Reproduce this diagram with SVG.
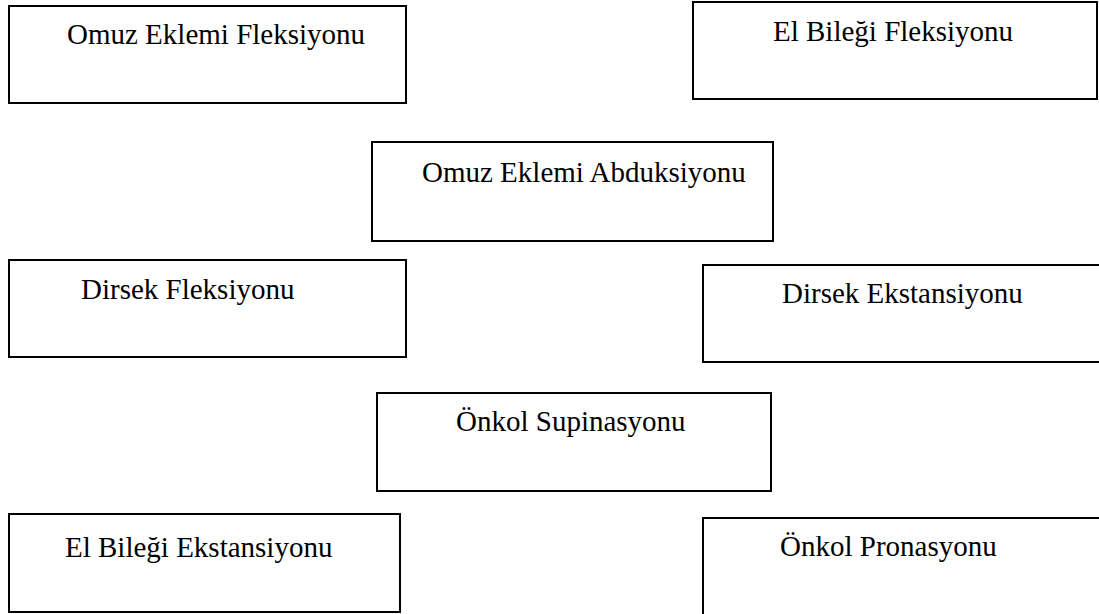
<svg xmlns="http://www.w3.org/2000/svg" width="1099" height="614" viewBox="0 0 1099 614">
<style>
.box{fill:#fff;stroke:#000;stroke-width:2}
.lbl{font-family:"Liberation Serif","Times New Roman",serif;font-size:29px;fill:#000}
</style>
<rect width="1099" height="614" fill="#fff"/>
<g id="n1"><rect class="box" x="9" y="6" width="397" height="97"/><text class="lbl" x="67" y="44">Omuz Eklemi Fleksiyonu</text></g>
<g id="n2"><rect class="box" x="693" y="2" width="404" height="97"/><text class="lbl" x="773" y="41">El Bileği Fleksiyonu</text></g>
<g id="n3"><rect class="box" x="372" y="142" width="401" height="99"/><text class="lbl" x="422" y="182">Omuz Eklemi Abduksiyonu</text></g>
<g id="n4"><rect class="box" x="9" y="260" width="397" height="97"/><text class="lbl" x="81" y="299">Dirsek Fleksiyonu</text></g>
<g id="n5"><rect class="box" x="703" y="265" width="410" height="97"/><text class="lbl" x="782" y="303">Dirsek Ekstansiyonu</text></g>
<g id="n6"><rect class="box" x="377" y="393" width="394" height="98"/><text class="lbl" x="456" y="431">Önkol Supinasyonu</text></g>
<g id="n7"><rect class="box" x="9" y="514" width="391" height="98"/><text class="lbl" x="65" y="557">El Bileği Ekstansiyonu</text></g>
<g id="n8"><rect class="box" x="703" y="518" width="410" height="110"/><text class="lbl" x="780" y="556">Önkol Pronasyonu</text></g>
<g id="connectors"></g>
</svg>
